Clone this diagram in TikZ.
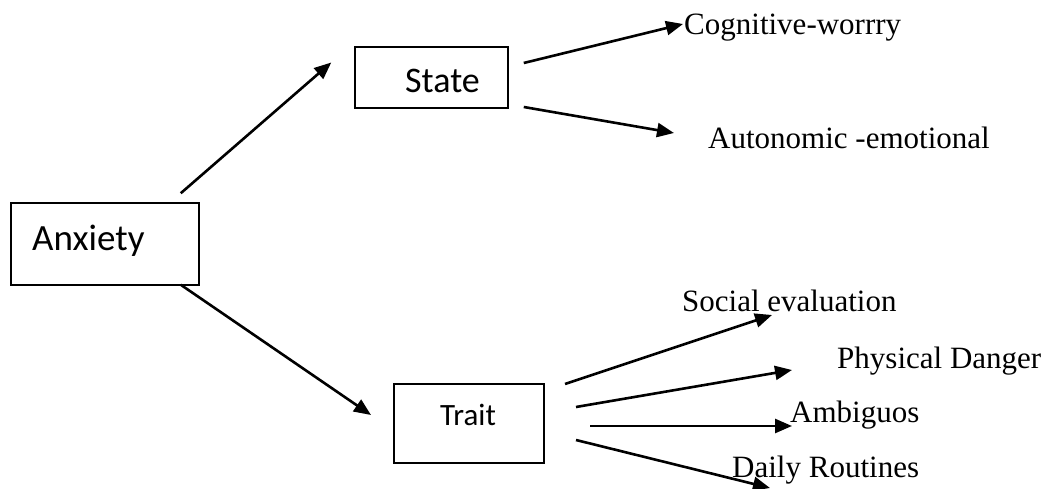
\documentclass[tikz,border=0pt]{standalone}
\usepackage{fontspec}
\setmainfont{Liberation Serif}
\newfontfamily\boxfont{Carlito}
\usetikzlibrary{arrows.meta,calc}
\begin{document}
\begin{tikzpicture}[x=1pt,y=-1pt,
  box/.style={draw,line width=1.5pt,rectangle,inner sep=0pt},
  boxtext/.style={inner sep=0pt,anchor=base west},
  lbl/.style={inner sep=0pt,anchor=base west,font=\fontsize{31}{36}\selectfont},
  conn/.style={line width=2.6pt,-{Triangle[length=17pt,width=14pt]}}]
\useasboundingbox (0,0) rectangle (1050,489);
% boxes
\node[box,minimum width=188pt,minimum height=82pt] (anxiety) at (105,244) {};
\node[box,minimum width=153pt,minimum height=61pt] (state) at (431.5,77.5) {};
\node[box,line width=2pt,minimum width=150pt,minimum height=79pt] (trait) at (469,423.5) {};
\node[boxtext,font=\boxfont\fontsize{37}{44}\selectfont] (anxietytext) at (32,251) {Anxiety};
\node[boxtext,font=\boxfont\fontsize{36}{43}\selectfont] (statetext) at (405,93) {State};
\node[boxtext,font=\boxfont\fontsize{31}{37}\selectfont] (traittext) at (440,425) {Trait};
% leaf labels
\node[lbl] (cog) at (684,35) {Cognitive-worrry};
\node[lbl] (auto) at (708,149) {Autonomic -emotional};
\node[lbl] (social) at (682,311) {Social evaluation};
\node[lbl] (phys) at (837,368) {Physical Danger};
\node[lbl] (amb) at (790,422) {Ambiguos};
\node[lbl] (daily) at (732,477) {Daily Routines};
% connectors
\draw[conn] ($(anxiety.north east)+(-19,-9)$) -- ($(state.west)+(-23,-15)$);
\draw[conn] ($(anxiety.south east)+(-19,-1)$) -- ($(trait.west)+(-22,-8.5)$);
\draw[conn] ($(state.east)+(15,-14.5)$) -- ($(cog.base west)+(-1,-11)$);
\draw[conn] ($(state.east)+(15,29.5)$) -- ($(auto.base west)+(-34,-16)$);
\draw[conn] ($(trait.east)+(20,-39.5)$) -- ($(social.base west)+(90,4)$);
\draw[conn] ($(trait.east)+(31,-16.5)$) -- ($(phys.base west)+(-45,2)$);
\draw[conn] ($(trait.east)+(45,2.5)$) -- ($(amb.base west)+(2,4)$);
\draw[conn] ($(trait.east)+(31,16.5)$) -- ($(daily.base west)+(38,11)$);
\end{tikzpicture}
\end{document}
